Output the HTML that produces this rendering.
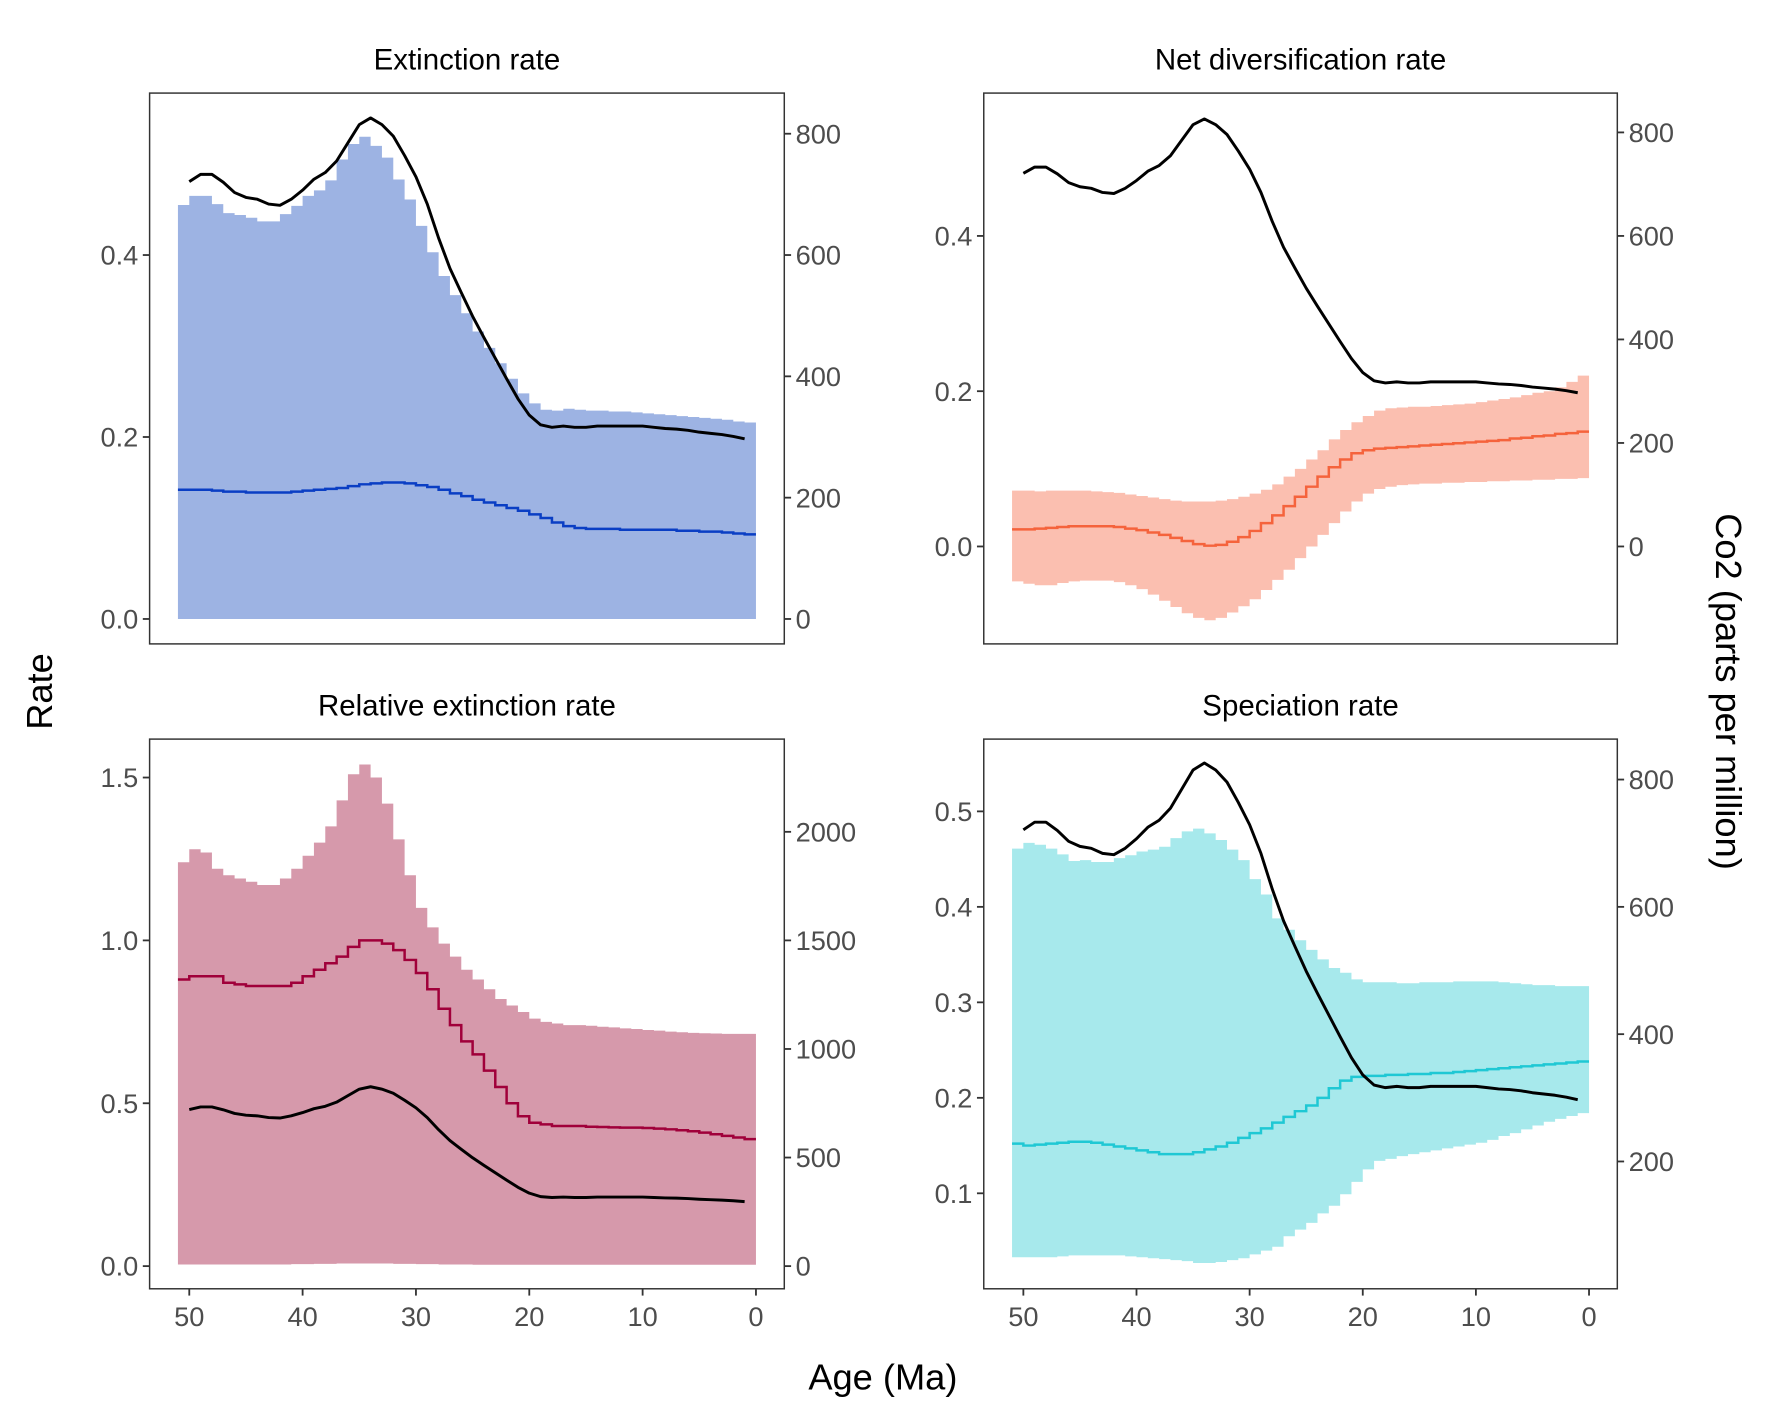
<!DOCTYPE html>
<html><head><meta charset="utf-8"><style>
html,body{margin:0;padding:0;background:#fff}
svg{display:block}
text{font-family:"Liberation Sans",Arial,sans-serif}
</style></head><body>
<svg id="fig" width="1771" height="1417" viewBox="0 0 1562.6 1250" xmlns="http://www.w3.org/2000/svg">
<text x="0" y="0" font-size="32" text-anchor="middle" transform="translate(46,610) rotate(-90)">Rate</text>
<text x="779" y="1226" font-size="32" text-anchor="middle">Age (Ma)</text>
<text x="0" y="0" font-size="32" text-anchor="middle" transform="translate(1514,610) rotate(90)">Co2 (parts per million)</text>
</svg>
<script>
// CO2 curve (ppm) by age (Ma)
const co2Ages = [50,49,48,47,46,45,44,43,42,41,40,39,38,37,36,35,34,33,32,31,30,29,28,27,26,25,24,23,22,21,20,19,18,17,16,15,14,13,12,11,10,9,8,7,6,5,4,3,2,1];
const co2Values = [721,733,733,720,703,695,692,684,682,692,707,725,736,755,785,815,826,815,796,764,729,684,628,578,538,499,464,430,396,363,336,320,316,318,316,316,318,318,318,318,318,316,314,313,311,308,306,304,301,297];
// bins: 1 Ma wide, starting at age 51 down to 0
const binStartAges = [51,50,49,48,47,46,45,44,43,42,41,40,39,38,37,36,35,34,33,32,31,30,29,28,27,26,25,24,23,22,21,20,19,18,17,16,15,14,13,12,11,10,9,8,7,6,5,4,3,2,1];

const extMedian = [0.142,0.142,0.142,0.141,0.140,0.140,0.139,0.139,0.139,0.139,0.140,0.141,0.142,0.143,0.144,0.146,0.148,0.149,0.150,0.150,0.149,0.147,0.145,0.142,0.138,0.135,0.131,0.128,0.125,0.122,0.119,0.115,0.111,0.106,0.102,0.100,0.099,0.099,0.099,0.098,0.098,0.098,0.098,0.098,0.097,0.097,0.096,0.096,0.095,0.094,0.093];
const extUpper = [0.455,0.465,0.465,0.456,0.446,0.444,0.441,0.437,0.437,0.445,0.454,0.465,0.471,0.482,0.505,0.522,0.530,0.520,0.507,0.483,0.461,0.432,0.403,0.377,0.356,0.336,0.316,0.298,0.281,0.264,0.248,0.237,0.230,0.229,0.231,0.230,0.229,0.229,0.228,0.228,0.227,0.226,0.225,0.224,0.223,0.222,0.221,0.220,0.219,0.217,0.216];
const extLower = [0,0,0,0,0,0,0,0,0,0,0,0,0,0,0,0,0,0,0,0,0,0,0,0,0,0,0,0,0,0,0,0,0,0,0,0,0,0,0,0,0,0,0,0,0,0,0,0,0,0,0];

const netMedian = [0.022,0.022,0.023,0.024,0.025,0.026,0.026,0.026,0.026,0.025,0.023,0.021,0.018,0.015,0.011,0.007,0.003,0.001,0.002,0.006,0.012,0.020,0.030,0.040,0.052,0.064,0.077,0.090,0.102,0.112,0.120,0.124,0.126,0.127,0.128,0.129,0.130,0.131,0.132,0.133,0.134,0.135,0.136,0.137,0.139,0.140,0.142,0.143,0.145,0.146,0.148];
const netUpper = [0.072,0.072,0.071,0.072,0.072,0.072,0.072,0.071,0.070,0.069,0.067,0.065,0.063,0.061,0.059,0.058,0.058,0.058,0.059,0.061,0.064,0.068,0.073,0.080,0.090,0.100,0.112,0.124,0.138,0.150,0.160,0.168,0.175,0.178,0.179,0.180,0.180,0.181,0.182,0.183,0.184,0.186,0.188,0.190,0.192,0.195,0.198,0.200,0.205,0.212,0.220];
const netLower = [-0.045,-0.048,-0.050,-0.050,-0.047,-0.045,-0.044,-0.044,-0.044,-0.046,-0.050,-0.055,-0.062,-0.070,-0.078,-0.086,-0.092,-0.095,-0.092,-0.085,-0.077,-0.068,-0.056,-0.043,-0.030,-0.015,0.000,0.015,0.030,0.045,0.058,0.068,0.074,0.077,0.079,0.080,0.081,0.081,0.082,0.082,0.083,0.083,0.084,0.084,0.085,0.085,0.086,0.086,0.087,0.087,0.088];

const relMedian = [0.88,0.89,0.89,0.89,0.87,0.865,0.86,0.86,0.86,0.86,0.87,0.89,0.91,0.93,0.95,0.98,1.00,1.00,0.99,0.97,0.94,0.90,0.85,0.79,0.74,0.69,0.65,0.60,0.55,0.50,0.46,0.44,0.435,0.43,0.43,0.43,0.428,0.427,0.426,0.425,0.425,0.424,0.422,0.42,0.417,0.414,0.41,0.405,0.4,0.395,0.39];
const relUpper = [1.24,1.28,1.27,1.22,1.20,1.19,1.18,1.17,1.17,1.19,1.22,1.26,1.30,1.35,1.43,1.51,1.54,1.50,1.42,1.31,1.20,1.10,1.04,0.99,0.95,0.91,0.88,0.85,0.82,0.80,0.78,0.76,0.75,0.745,0.74,0.74,0.738,0.735,0.733,0.73,0.728,0.725,0.723,0.72,0.718,0.716,0.715,0.714,0.713,0.713,0.713];
const relLower = [0.005,0.005,0.005,0.005,0.005,0.005,0.005,0.005,0.005,0.005,0.006,0.006,0.007,0.007,0.008,0.008,0.008,0.008,0.008,0.007,0.007,0.006,0.006,0.005,0.005,0.005,0.004,0.004,0.004,0.004,0.004,0.004,0.004,0.004,0.004,0.004,0.004,0.004,0.004,0.004,0.004,0.004,0.004,0.004,0.004,0.004,0.004,0.004,0.004,0.004,0.004];

const spMedian = [0.152,0.150,0.151,0.152,0.153,0.154,0.154,0.153,0.151,0.149,0.147,0.145,0.143,0.141,0.141,0.141,0.143,0.146,0.149,0.153,0.158,0.163,0.168,0.174,0.180,0.186,0.192,0.200,0.210,0.218,0.222,0.223,0.223,0.224,0.224,0.225,0.225,0.226,0.226,0.227,0.228,0.229,0.230,0.231,0.232,0.233,0.234,0.235,0.236,0.237,0.238];
const spUpper = [0.461,0.467,0.465,0.461,0.455,0.448,0.449,0.447,0.447,0.451,0.454,0.458,0.460,0.463,0.472,0.479,0.482,0.477,0.470,0.460,0.449,0.429,0.413,0.388,0.376,0.365,0.355,0.345,0.336,0.331,0.324,0.321,0.321,0.321,0.320,0.320,0.321,0.321,0.321,0.322,0.322,0.322,0.322,0.321,0.320,0.319,0.318,0.318,0.317,0.317,0.317];
const spLower = [0.033,0.033,0.033,0.033,0.034,0.035,0.035,0.035,0.035,0.035,0.034,0.033,0.032,0.031,0.030,0.029,0.027,0.027,0.028,0.030,0.032,0.036,0.040,0.044,0.055,0.062,0.069,0.079,0.087,0.099,0.112,0.125,0.134,0.136,0.139,0.141,0.143,0.145,0.147,0.149,0.151,0.153,0.156,0.160,0.163,0.167,0.171,0.175,0.178,0.181,0.184];

const xTicks = [50,40,30,20,10,0];
const ext_yTicks = [0.0,0.2,0.4];
const ext_yTickLabels = ["0.0","0.2","0.4"];
const ext_co2Ticks = [0,200,400,600,800];
const net_yTicks = [0.0,0.2,0.4];
const net_yTickLabels = ["0.0","0.2","0.4"];
const net_co2Ticks = [0,200,400,600,800];
const rel_yTicks = [0.0,0.5,1.0,1.5];
const rel_yTickLabels = ["0.0","0.5","1.0","1.5"];
const rel_co2Ticks = [0,500,1000,1500,2000];
const sp_yTicks = [0.1,0.2,0.3,0.4,0.5];
const sp_yTickLabels = ["0.1","0.2","0.3","0.4","0.5"];
const sp_co2Ticks = [200,400,600,800];

const NS = "http://www.w3.org/2000/svg";
const svg = document.getElementById('fig');
function mk(tag, attrs, parent){
  const e = document.createElementNS(NS, tag);
  for (const k in attrs) e.setAttribute(k, attrs[k]);
  (parent||svg).appendChild(e);
  return e;
}

function panel(c){
  const g = mk('g', {});
  
  
  const xs = a => c.x0 + (53.5 - a) / 56 * (c.x1 - c.x0);
  const ys = r => c.y1 - (r - c.rMin) / (c.rMax - c.rMin) * (c.y1 - c.y0);
  const yc = v => ys(v / 1500);
  // title
  const t = mk('text', {x:(c.x0+c.x1)/2, y:c.y0-21, 'font-size':26, 'text-anchor':'middle', fill:'#000'}, g);
  t.textContent = c.title;
  
  
  // band
  let up = '', lo = [];
  for (let i = 0; i < binStartAges.length; i++){
    const xa = xs(binStartAges[i]), xb = xs(binStartAges[i]-1);
    up += (i===0?'M':'L') + xa + ',' + ys(c.upper[i]) + 'L' + xb + ',' + ys(c.upper[i]);
    lo.unshift('L' + xb + ',' + ys(c.lower[i]) + 'L' + xa + ',' + ys(c.lower[i]));
  }
  const band = mk('path', {d: up + lo.join('') + 'Z', fill:c.band, stroke:'none'}, g);
  
  
  // median step
  let md = '';
  for (let i = 0; i < binStartAges.length; i++){
    md += (i===0?'M':'L') + xs(binStartAges[i]) + ',' + ys(c.median[i]) + 'L' + xs(binStartAges[i]-1) + ',' + ys(c.median[i]);
  }
  const med = mk('path', {d: md, fill:'none', stroke:c.line, 'stroke-width':2.2}, g);
  
  
  // co2
  let cd = '';
  co2Ages.forEach((a,i) => { cd += (i===0?'M':'L') + xs(a) + ',' + yc(co2Values[i]); });
  const co = mk('path', {d: cd, fill:'none', stroke:'#000', 'stroke-width':2.6, 'stroke-linejoin':'round'}, g);
  
  
  // frame
  const fr = mk('rect', {x:c.x0, y:c.y0, width:c.x1-c.x0, height:c.y1-c.y0, fill:'none', stroke:'#333', 'stroke-width':1.3}, g);
  
  
  // left ticks
  c.yTicks.forEach((v,i) => {
    const y = ys(v);
    mk('line', {x1:c.x0-6, x2:c.x0, y1:y, y2:y, stroke:'#333', 'stroke-width':1.6}, g);
    const tx = mk('text', {x:c.x0-10, y:y+8.5, 'font-size':24, 'text-anchor':'end', fill:'#4d4d4d'}, g);
    tx.textContent = c.yLabels[i];
    
    
  });
  // right ticks
  c.co2Ticks.forEach(v => {
    const y = yc(v);
    mk('line', {x1:c.x1, x2:c.x1+6, y1:y, y2:y, stroke:'#333', 'stroke-width':1.6}, g);
    const tx = mk('text', {x:c.x1+10, y:y+8.5, 'font-size':24, 'text-anchor':'start', fill:'#4d4d4d'}, g);
    tx.textContent = String(v);
    
    
  });
  if (c.xAxis){
    xTicks.forEach(v => {
      const x = xs(v);
      mk('line', {x1:x, x2:x, y1:c.y1, y2:c.y1+6, stroke:'#333', 'stroke-width':1.6}, g);
      const tx = mk('text', {x:x, y:c.y1+33, 'font-size':24, 'text-anchor':'middle', fill:'#4d4d4d'}, g);
      tx.textContent = String(v);
      
      
    });
  }
}

panel({name:'extinction-rate-panel', title:'Extinction rate', x0:132, x1:692, y0:82, y1:568, rMin:-0.0274, rMax:0.578,
  median:extMedian, upper:extUpper, lower:extLower, band:'#9db3e3', line:'#0a3ec4',
  yTicks:ext_yTicks, yLabels:ext_yTickLabels, co2Ticks:ext_co2Ticks, xAxis:false});
panel({name:'net-diversification-panel', title:'Net diversification rate', x0:868, x1:1427, y0:82, y1:568, rMin:-0.1255, rMax:0.584,
  median:netMedian, upper:netUpper, lower:netLower, band:'#fbbfb0', line:'#f5633c',
  yTicks:net_yTicks, yLabels:net_yTickLabels, co2Ticks:net_co2Ticks, xAxis:false});
panel({name:'relative-extinction-panel', title:'Relative extinction rate', x0:132, x1:692, y0:652, y1:1137, rMin:-0.0696, rMax:1.618,
  median:relMedian, upper:relUpper, lower:relLower, band:'#d699ab', line:'#a0003a',
  yTicks:rel_yTicks, yLabels:rel_yTickLabels, co2Ticks:rel_co2Ticks, xAxis:true});
panel({name:'speciation-rate-panel', title:'Speciation rate', x0:868, x1:1427, y0:652, y1:1137, rMin:0, rMax:0.5757,
  median:spMedian, upper:spUpper, lower:spLower, band:'#a7e9ec', line:'#1fc8d4',
  yTicks:sp_yTicks, yLabels:sp_yTickLabels, co2Ticks:sp_co2Ticks, xAxis:true});
</script>
</body></html>
